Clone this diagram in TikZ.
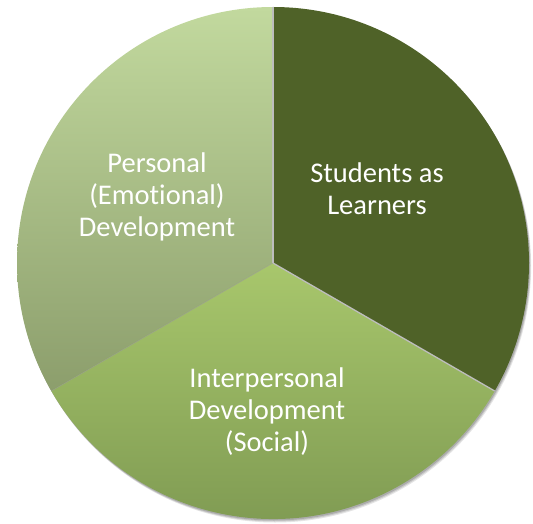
\documentclass[tikz,border=0pt]{standalone}
\usepackage{fontspec}
\setmainfont{Carlito}[Ligatures={NoCommon}]
\usetikzlibrary{calc}
\definecolor{darkslice}{HTML}{4F6228}
\definecolor{lefttop}{HTML}{C2D99E}
\definecolor{leftbot}{HTML}{8C9E6C}
\definecolor{bottop}{HTML}{A8C76C}
\definecolor{botbot}{HTML}{7B9650}
\definecolor{sepgray}{HTML}{BDBDBD}
\tikzset{
  lbl/.style={text=white, align=center, font=\fontsize{28.5}{32}\selectfont, inner sep=0pt},
  sep/.style={draw=sepgray, line width=1.3pt}
}
\begin{document}
\begin{tikzpicture}[x=1pt,y=1pt]
\useasboundingbox (0,0) rectangle (533,523);
\coordinate (C) at (273,260);
% soft shadow
\foreach \o/\a in {3.5/0.10,2.5/0.12,1.5/0.15}{
  \fill[black, opacity=\a] ($(C)+(\o*0.6,-\o)$) circle[radius=256];
}
% slices
\fill[darkslice] (C) -- ++(90:256) arc[start angle=90,end angle=-30,radius=256] -- cycle;
\shade[top color=lefttop, bottom color=leftbot] (C) -- ++(90:256) arc[start angle=90,end angle=210,radius=256] -- cycle;
\shade[top color=bottop, bottom color=botbot] (C) -- ++(210:256) arc[start angle=210,end angle=330,radius=256] -- cycle;
% separators
\coordinate (T) at ($(C)+(90:256)$);
\coordinate (R) at ($(C)+(-30:256)$);
\coordinate (L) at ($(C)+(210:256)$);
\draw[sep] (C) -- (T);
\draw[sep] (C) -- (R);
\draw[draw=black!40, opacity=0.5, line width=0.6pt] (C) -- (L);
% labels
\node[lbl] (pers) at (157,326.5) {Personal\\(Emotional)\\Development};
\node[lbl] (stud) at (377,334.5) {Students as\\Learners};
\node[lbl] (inter) at (267,111.5) {Interpersonal\\Development\\(Social)};
\end{tikzpicture}
\end{document}
